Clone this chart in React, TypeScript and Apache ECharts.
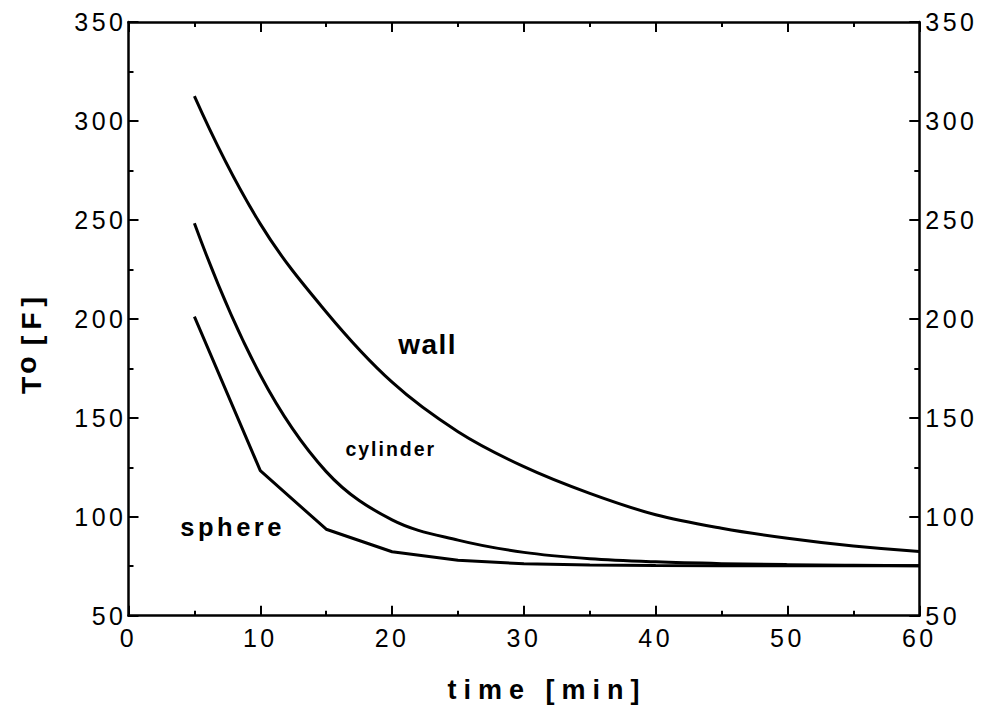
import React, { useEffect, useRef } from "react";
import * as echarts from "echarts";

// time [min]
const times = [5, 10, 15, 20, 25, 30, 35, 40, 45, 50, 55, 60];
// center temperature T_o [F]
const wall = [312.6, 248.0, 203.5, 168.0, 143.0, 125.3, 111.8, 101.0, 94.2, 89.1, 85.2, 82.5];
const cylinder = [248.3, 171.6, 122.8, 98.4, 88.2, 82.0, 78.8, 77.2, 76.3, 75.8, 75.5, 75.3];
const sphere = [201.1, 123.3, 93.7, 82.3, 78.0, 76.2, 75.6, 75.4, 75.3, 75.2, 75.2, 75.2];

// curve annotations (anchored in data space)
const labelTexts = ["wall", "cylinder", "sphere"];
const labelTimes = [22.7, 19.9, 7.9];
const labelTemps = [186.8, 134.2, 94.8];
const labelSizes = [28, 19.5, 25.5];

const xTicks = { min: 0, max: 60, interval: 10 };
const yTicks = { min: 50, max: 350, interval: 50 };

const FONT = "'Liberation Sans', Arial, Helvetica, sans-serif";

const CSS = `
.chartbox svg text[style*="25px"]{letter-spacing:3.5px;}
.chartbox svg text[style*="28px"]{letter-spacing:1.5px;}
.chartbox svg text[style*="19.5px"]{letter-spacing:2px;}
.chartbox svg text[style*="25.5px"]{letter-spacing:3.5px;}
.chartbox svg text[style*="27px"]{letter-spacing:7px;}
.chartbox svg text[style*="28.5px"]{letter-spacing:6px;}
`;

// smooth curve through pixel points (cubic Hermite, monotone-safe)
function curvePath(pts: number[][]): string {
  const n = pts.length;
  const h: number[] = [];
  const d: number[] = [];
  for (let k = 0; k < n - 1; k++) {
    h[k] = pts[k + 1][0] - pts[k][0];
    d[k] = (pts[k + 1][1] - pts[k][1]) / h[k];
  }
  const m: number[] = [];
  for (let k = 1; k < n - 1; k++) {
    if (d[k - 1] * d[k] <= 0) m[k] = 0;
    else m[k] = (pts[k + 1][1] - pts[k - 1][1]) / (pts[k + 1][0] - pts[k - 1][0]);
  }
  m[0] = (3 * d[0] - d[1]) / 2;
  if (m[0] * d[0] <= 0) m[0] = d[0];
  m[n - 1] = (3 * d[n - 2] - d[n - 3]) / 2;
  if (m[n - 1] * d[n - 2] <= 0) m[n - 1] = 0;
  let s = `M${pts[0][0]},${pts[0][1]}`;
  for (let k = 0; k < n - 1; k++) {
    const x0 = pts[k][0], y0 = pts[k][1], x1 = pts[k + 1][0], y1 = pts[k + 1][1];
    const c1x = x0 + h[k] / 3, c1y = y0 + (m[k] * h[k]) / 3;
    const c2x = x1 - h[k] / 3, c2y = y1 - (m[k + 1] * h[k]) / 3;
    s += ` C${c1x},${c1y} ${c2x},${c2y} ${x1},${y1}`;
  }
  return s;
}

export default function App() {
  const ref = useRef<HTMLDivElement>(null);

  useEffect(() => {
    if (!ref.current) return;
    const chart = echarts.init(ref.current, null, { renderer: "svg" });

    const axisLine = { show: true, onZero: false, lineStyle: { color: "#000", width: 2.5 } };
    const axisTick = { show: true, inside: true, length: 10, lineStyle: { color: "#000", width: 2 } };
    const minorTick = { show: true, splitNumber: 2, length: 5, lineStyle: { color: "#000", width: 2 } };
    const label = { color: "#000", fontSize: 25, fontFamily: FONT };

    const smoothSeries = (name: string, arr: number[]) => ({
      name,
      type: "custom",
      coordinateSystem: "cartesian2d",
      xAxisIndex: 0,
      yAxisIndex: 0,
      data: times.map((t, i) => [t, arr[i]]),
      encode: { x: 0, y: 1 },
      z: 3,
      renderItem: (params: any, api: any) => {
        if (params.dataIndex !== 0) return null;
        const pts = times.map((t, i) => api.coord([t, arr[i]]));
        return {
          type: "path",
          shape: { pathData: curvePath(pts) },
          style: { stroke: "#000", lineWidth: 3, fill: "none" },
        };
      },
    });

    chart.setOption({
      animation: false,
      backgroundColor: "#fff",
      grid: { left: 128.5, right: 65.7, top: 22, bottom: 103.3, containLabel: false },
      xAxis: [
        {
          type: "value",
          ...xTicks,
          position: "bottom",
          axisLine,
          axisTick,
          minorTick,
          splitLine: { show: false },
          axisLabel: { ...label, margin: 10 },
        },
        {
          type: "value",
          ...xTicks,
          position: "top",
          axisLine,
          axisTick,
          minorTick,
          splitLine: { show: false },
          axisLabel: { show: false },
        },
      ],
      yAxis: [
        {
          type: "value",
          ...yTicks,
          position: "left",
          axisLine,
          axisTick,
          minorTick,
          splitLine: { show: false },
          axisLabel: { ...label, margin: 2 },
        },
        {
          type: "value",
          ...yTicks,
          position: "right",
          axisLine,
          axisTick,
          minorTick,
          splitLine: { show: false },
          axisLabel: { ...label, margin: 6 },
        },
      ],
      series: [
        smoothSeries("wall", wall),
        smoothSeries("cylinder", cylinder),
        {
          name: "sphere",
          type: "line",
          data: times.map((t, i) => [t, sphere[i]]),
          showSymbol: false,
          symbol: "none",
          lineStyle: { color: "#000", width: 3 },
          xAxisIndex: 0,
          yAxisIndex: 0,
          z: 3,
        },
      ],
    });

    const annots = labelTexts.map((txt, i) => {
      const p = chart.convertToPixel({ xAxisIndex: 0, yAxisIndex: 0 }, [labelTimes[i], labelTemps[i]]) as number[];
      return {
        type: "text",
        x: p[0],
        y: p[1],
        style: {
          text: txt,
          fill: "#000",
          font: `bold ${labelSizes[i]}px ${FONT}`,
          align: "center",
          verticalAlign: "middle",
        },
        z: 10,
      };
    });

    chart.setOption({
      graphic: [
        ...annots,
        {
          type: "text",
          x: 547,
          y: 690,
          style: {
            text: "time [min]",
            fill: "#000",
            font: `bold 27px ${FONT}`,
            align: "center",
            verticalAlign: "middle",
          },
        },
        {
          type: "text",
          x: 31,
          y: 347,
          rotation: Math.PI / 2,
          style: {
            text: "{t|T}{o|o}{f| [F]}",
            align: "center",
            verticalAlign: "middle",
            rich: {
              t: { fontSize: 28.5, fontWeight: "bold", fontFamily: FONT, color: "#000", verticalAlign: "middle", lineHeight: 40, padding: [0, 3, 0, 0] },
              o: { fontSize: 28.5, fontWeight: "bold", fontFamily: FONT, color: "#000", verticalAlign: "top", lineHeight: 30, padding: [0, 6, 0, 0] },
              f: { fontSize: 28.5, fontWeight: "bold", fontFamily: FONT, color: "#000", verticalAlign: "middle", lineHeight: 40 },
            },
          },
        },
      ],
    });

    return () => chart.dispose();
  }, []);

  return (
    <>
      <style>{CSS}</style>
      <div
        ref={ref}
        className="chartbox"
        style={{ position: "fixed", left: 0, top: 0, width: 985, height: 719, background: "#fff" }}
      />
    </>
  );
}
